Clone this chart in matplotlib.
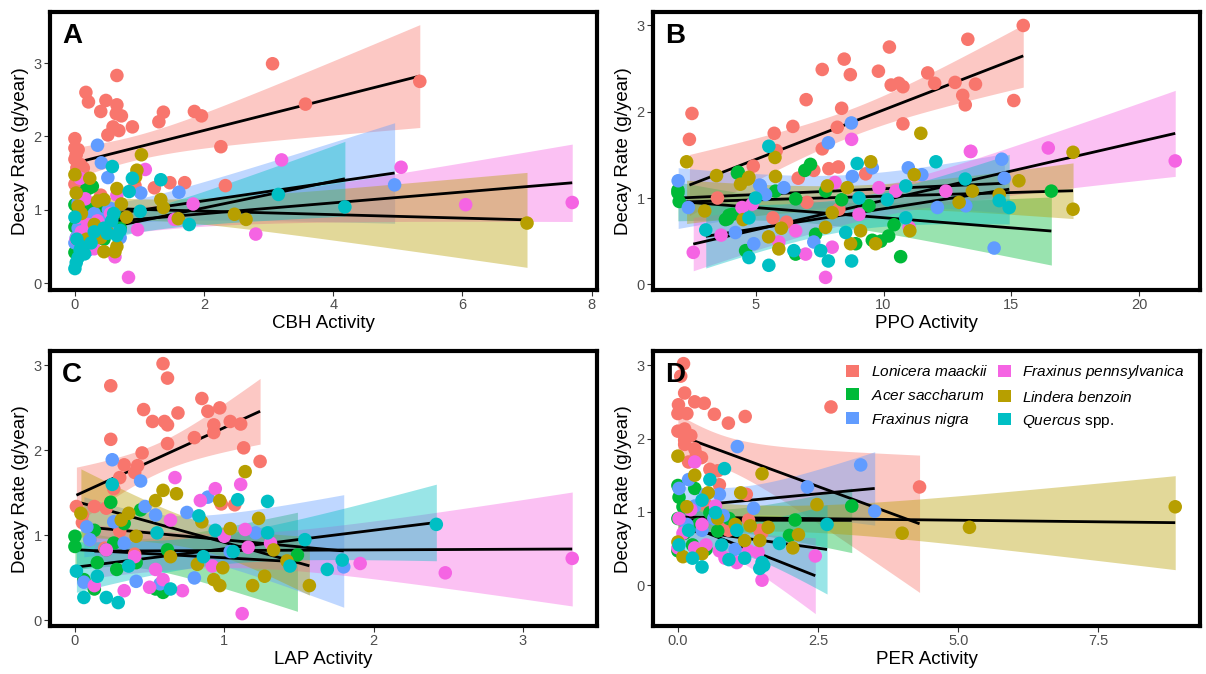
import numpy as np
import matplotlib
matplotlib.use("Agg")
import matplotlib.pyplot as plt
from matplotlib.patches import Patch
from matplotlib.ticker import MultipleLocator, FormatStrFormatter

plt.rcParams["font.family"] = ["Liberation Sans", "DejaVu Sans"]
plt.rcParams["mathtext.fontset"] = "custom"
plt.rcParams["mathtext.it"] = "Liberation Sans:italic"
plt.rcParams["mathtext.rm"] = "Liberation Sans"

species = ["Lonicera maackii", "Acer saccharum", "Fraxinus nigra",
           "Fraxinus pennsylvanica", "Lindera benzoin", "Quercus spp."]
species_labels = [r"$\it{Lonicera\ maackii}$", r"$\it{Acer\ saccharum}$", r"$\it{Fraxinus\ nigra}$",
                  r"$\it{Fraxinus\ pennsylvanica}$", r"$\it{Lindera\ benzoin}$", r"$\it{Quercus}$ spp."]
colors = ["#F8766D", "#00BA38", "#619CFF", "#F564E3", "#B79F00", "#00BFC4"]

# ---- panel A : CBH ----
cbh_lon_x = [0.65, 0.17, 0.21, 0.48, 0.65, 0.40, 0.64, 0.72, 1.37, 1.30, 1.85, 1.96, 0.89, 0.59, 0.68, 0.51, 0.00,
             2.26, 0.00, 0.05, 0.00, 0.03, 0.13, 2.33, 1.23, 1.47, 1.70, 0.93, 3.06, 3.57, 5.34, 0.02, 0.08,
             0.05, 0.10, 0.20, 0.30, 0.15, 0.40, 0.00, 0.25, 0.35, 0.10]
cbh_lon_y = [2.83, 2.60, 2.47, 2.49, 2.43, 2.34, 2.31, 2.28, 2.33, 2.20, 2.34, 2.28, 2.13, 2.13, 2.08, 2.02, 1.97,
             1.86, 1.84, 1.82, 1.69, 1.57, 1.57, 1.33, 1.30, 1.37, 1.37, 1.33, 2.99, 2.44, 2.75, 1.75, 1.62,
             1.45, 1.25, 1.10, 0.95, 0.85, 1.20, 1.35, 0.75, 0.90, 1.05]
cbh_ace_x = [0.23, 0.18, 0.27, 0.00, 0.21, 0.34, 0.00, 0.03, 0.00, 0.36, 0.05, 0.10, 0.15, 0.40, 0.55, 0.62, 0.08,
             0.30, 0.45, 0.12, 0.02, 0.50, 0.70, 0.25, 0.06]
cbh_ace_y = [1.30, 1.28, 1.32, 1.07, 0.98, 0.82, 0.77, 0.56, 0.42, 0.93, 1.20, 0.90, 1.10, 0.70, 0.78, 0.95, 0.65,
             1.05, 0.60, 0.50, 0.88, 1.02, 0.75, 0.62, 1.00]
cbh_fni_x = [0.35, 0.41, 0.51, 1.02, 1.61, 0.52, 0.26, 0.00, 0.02, 4.95, 0.15, 0.30, 0.45, 0.60, 0.10, 0.05, 0.70,
             0.25, 0.55, 0.20, 0.38, 0.65, 0.05, 0.12]
cbh_fni_y = [1.88, 1.64, 1.44, 1.23, 1.24, 1.00, 0.52, 0.55, 0.62, 1.34, 0.70, 0.95, 0.85, 0.98, 0.60, 0.75, 0.62,
             0.90, 1.02, 0.45, 0.88, 0.70, 1.10, 0.66]
cbh_fpe_x = [7.70, 6.05, 5.05, 3.20, 2.80, 1.83, 1.09, 0.97, 0.83, 1.54, 0.62, 0.28, 0.65, 0.08, 0.16, 0.05, 0.20,
             0.40, 0.10, 0.55, 0.02, 0.35, 0.30]
cbh_fpe_y = [1.10, 1.07, 1.58, 1.68, 0.67, 1.08, 1.55, 0.73, 0.08, 0.87, 0.36, 0.50, 1.20, 1.43, 1.15, 0.90, 0.80,
             0.65, 0.70, 0.95, 0.60, 0.85, 0.47]
cbh_lin_x = [7.00, 2.65, 2.47, 1.03, 0.96, 0.94, 0.65, 0.00, 0.02, 0.23, 0.35, 0.45, 0.72, 1.33, 1.37, 0.45, 0.62,
             0.65, 0.18, 1.60, 0.10, 0.30, 0.50, 0.05, 0.40, 0.80]
cbh_lin_y = [0.82, 0.87, 0.94, 1.75, 1.54, 1.45, 1.29, 1.48, 1.23, 1.43, 1.12, 1.14, 1.08, 1.14, 1.03, 0.43, 0.43,
             0.50, 0.60, 0.88, 0.95, 0.80, 0.70, 1.05, 0.62, 0.90]
cbh_que_x = [0.58, 0.89, 1.33, 0.84, 1.01, 1.77, 0.00, 0.02, 0.57, 0.65, 0.00, 3.15, 4.18, 0.05, 0.10, 0.03, 0.30,
             0.45, 0.70, 0.15, 0.08, 0.25, 0.60, 0.50]
cbh_que_y = [1.59, 1.43, 1.41, 1.25, 0.98, 0.80, 0.20, 0.28, 0.85, 0.65, 0.90, 1.21, 1.04, 0.35, 0.50, 0.60, 0.70,
             0.75, 0.72, 0.40, 0.45, 0.55, 0.95, 0.68]

# ---- panel B : PPO ----
ppo_lon_x = [15.47, 13.30, 10.23, 8.46, 7.60, 8.70, 9.80, 11.73, 12.00, 10.30, 10.60, 10.76, 12.80, 13.60, 13.10,
             13.20, 15.10, 6.97, 8.36, 10.76, 8.19, 6.45, 5.72, 5.80, 7.60, 4.90, 7.86, 8.23, 7.27, 6.66, 9.30,
             2.50, 2.40, 5.67, 8.25, 3.50, 6.20, 7.00]
ppo_lon_y = [3.00, 2.84, 2.75, 2.61, 2.49, 2.43, 2.47, 2.45, 2.33, 2.31, 2.33, 2.29, 2.34, 2.32, 2.19,
             2.08, 2.13, 2.14, 2.04, 1.86, 1.82, 1.83, 1.75, 1.55, 1.57, 1.37, 1.34, 1.36, 1.32, 1.23, 1.28,
             1.98, 1.68, 0.77, 0.87, 1.00, 0.72, 0.95]
ppo_ace_x = [1.95, 2.00, 1.95, 4.28, 3.90, 3.95, 4.31, 7.14, 6.92, 10.67, 10.20, 9.89, 9.56, 8.91, 6.56, 4.60,
             8.36, 9.43, 10.41, 5.77, 6.56, 3.81, 4.07, 7.73, 7.34, 16.57]
ppo_ace_y = [1.09, 0.96, 1.06, 1.29, 0.76, 0.80, 1.30, 1.39, 1.32, 0.32, 0.56, 0.50, 0.51, 0.47, 0.35, 0.39,
             0.98, 0.91, 0.69, 1.08, 0.99, 0.75, 0.81, 1.08, 0.58, 1.08]
ppo_fni_x = [1.96, 2.36, 4.20, 5.15, 8.74, 7.84, 10.97, 11.50, 14.63, 14.73, 14.33, 12.11, 13.22, 5.18, 5.38,
             6.10, 8.78, 9.56, 7.27, 4.92]
ppo_fni_y = [1.20, 0.89, 0.60, 1.15, 1.87, 1.64, 1.35, 1.27, 1.45, 1.23, 0.42, 0.89, 0.91, 1.14, 1.04,
             1.12, 1.25, 1.35, 0.49, 0.47]
ppo_fpe_x = [2.55, 3.64, 8.75, 13.42, 12.44, 9.82, 8.10, 9.04, 4.46, 6.56, 7.73, 6.95, 5.90, 7.99, 11.00,
             10.48, 4.86, 16.45, 21.42, 13.40]
ppo_fpe_y = [0.37, 0.57, 1.68, 1.54, 1.08, 1.12, 1.18, 0.81, 0.89, 0.62, 0.08, 0.35, 0.49, 0.43, 0.66,
             1.08, 0.93, 1.58, 1.43, 1.54]
ppo_lin_x = [2.29, 3.46, 4.40, 4.70, 11.46, 5.77, 5.75, 4.73, 9.50, 11.20, 13.48, 15.30, 14.53, 12.96, 8.58,
             7.80, 7.99, 7.73, 9.10, 9.69, 11.03, 5.90, 8.71, 17.42, 17.42, 5.50, 4.50, 6.00, 3.00]
ppo_lin_y = [1.42, 1.26, 1.16, 1.22, 1.75, 1.25, 1.47, 1.24, 1.42, 1.27, 1.08, 1.20, 1.04, 0.95, 1.12,
             1.14, 0.83, 0.66, 0.62, 0.47, 0.62, 0.41, 0.47, 1.53, 0.87, 0.55, 0.75, 0.65, 0.85]
ppo_que_x = [3.04, 5.51, 8.97, 12.05, 13.20, 14.92, 14.53, 10.87, 10.15, 8.75, 7.84, 5.51, 4.73, 4.73, 6.49,
             7.54, 8.52, 4.99, 9.04, 10.87]
ppo_que_y = [0.63, 1.60, 1.40, 1.42, 1.22, 0.89, 0.97, 1.14, 0.98, 0.27, 0.27, 0.22, 0.31, 0.77, 0.39,
             0.39, 0.60, 1.00, 1.00, 0.77]

# ---- panel C : LAP ----
lap_lon_x = [0.59, 0.62, 0.24, 0.85, 0.97, 0.89, 0.46, 0.69, 0.52, 0.60, 0.62, 1.04, 1.11, 0.93, 0.93, 0.80,
             0.24, 0.62, 1.13, 0.45, 0.33, 0.42, 0.40, 0.30, 1.24, 0.26, 0.98, 1.07, 0.01, 0.13, 0.21, 0.05,
             0.40, 0.10, 0.20, 0.30, 0.05]
lap_lon_y = [3.02, 2.85, 2.76, 2.61, 2.50, 2.46, 2.48, 2.44, 2.34, 2.34, 2.30, 2.34, 2.31, 2.30, 2.21, 2.15,
             2.13, 2.08, 2.03, 1.97, 1.83, 1.82, 1.74, 1.68, 1.87, 1.55, 1.37, 1.36, 1.34, 1.34, 1.32, 1.24,
             0.78, 0.95, 0.85, 1.05, 1.15]
lap_ace_x = [0.00, 0.24, 0.44, 1.49, 0.13, 0.21, 0.33, 0.06, 0.13, 0.28, 0.59, 0.41, 0.26, 0.62, 0.54, 0.15, 0.00]
lap_ace_y = [0.87, 1.39, 1.30, 0.77, 1.06, 0.83, 1.14, 0.48, 0.37, 0.60, 0.33, 0.68, 0.91, 0.83, 0.37, 0.68, 0.99]
lap_fni_x = [0.25, 0.44, 0.89, 0.47, 0.08, 1.80, 0.80, 0.75, 0.54, 1.04, 1.21, 0.10, 0.06, 0.41, 0.57, 0.26, 0.33]
lap_fni_y = [1.89, 1.64, 1.45, 1.34, 1.10, 0.63, 0.50, 1.27, 1.24, 0.81, 1.03, 0.95, 0.45, 0.46, 0.43, 1.16, 0.91]
lap_fpe_x = [0.67, 0.94, 1.11, 0.84, 2.48, 3.33, 1.91, 1.12, 0.92, 1.14, 1.31, 1.16, 0.72, 0.50, 0.33, 0.64,
             0.54, 0.40, 1.00, 0.21, 0.59, 0.13]
lap_fpe_y = [1.68, 1.55, 1.60, 1.41, 0.56, 0.73, 0.67, 0.08, 0.64, 1.07, 0.91, 0.86, 0.35, 0.39, 0.35, 1.18,
             0.60, 0.75, 0.99, 0.83, 0.48, 0.41]
lap_lin_x = [1.14, 0.59, 0.68, 0.54, 0.97, 1.23, 1.04, 0.36, 0.31, 0.04, 1.33, 1.42, 1.57, 1.19, 1.27, 0.93,
             0.97, 0.99, 0.82, 0.85, 0.41, 0.64]
lap_lin_y = [1.75, 1.53, 1.49, 1.41, 1.41, 1.20, 1.08, 1.26, 1.18, 1.26, 0.83, 0.70, 0.41, 0.41, 0.52, 0.48,
             0.41, 0.62, 0.66, 1.16, 0.99, 0.75]
lap_que_x = [0.25, 1.09, 1.29, 0.83, 0.94, 2.42, 1.54, 1.79, 1.69, 1.44, 1.29, 0.01, 0.06, 0.29, 0.21, 0.55,
             0.15, 0.36, 0.64, 1.06, 0.86]
lap_que_y = [1.60, 1.42, 1.40, 1.23, 1.06, 1.13, 0.95, 0.71, 0.60, 0.64, 1.03, 0.58, 0.27, 0.21, 0.27, 1.03,
             0.52, 0.64, 0.37, 0.81, 0.75]

# ---- panel D : PER ----
per_lon_x = [0.10, 0.05, 0.12, 0.30, 0.47, 0.01, 0.00, 0.16, 0.65, 1.20, 0.90, 2.73, 0.00, 0.12, 0.23, 0.12,
             0.12, 0.30, 0.33, 0.19, 0.42, 0.57, 0.71, 0.74, 1.22, 4.31, 1.26, 1.46, 0.84, 0.90, 1.50, 0.50]
per_lon_y = [3.02, 2.85, 2.62, 2.50, 2.48, 2.46, 2.34, 2.34, 2.33, 2.30, 2.21, 2.43, 2.10, 2.13, 2.04, 1.98,
             1.92, 1.86, 1.78, 1.68, 1.74, 1.58, 1.56, 1.37, 1.24, 1.34, 0.89, 0.75, 0.81, 0.75, 0.72, 1.10]
per_ace_x = [3.10, 2.09, 1.99, 0.71, 0.00, 0.02, 0.00, 0.00, 0.26, 0.50, 0.36, 0.12, 0.57, 0.30, 0.91, 0.09]
per_ace_y = [1.08, 0.89, 0.68, 0.74, 1.36, 1.20, 0.91, 0.47, 0.55, 0.49, 0.83, 0.71, 0.99, 1.32, 0.91, 1.07]
per_fni_x = [1.06, 3.26, 2.31, 3.51, 1.35, 0.81, 0.74, 0.19, 1.02, 0.02, 0.30, 0.50, 0.43, 0.64, 0.16]
per_fni_y = [1.89, 1.64, 1.34, 1.01, 1.05, 0.95, 1.24, 1.44, 0.49, 1.32, 1.08, 1.24, 0.75, 0.91, 0.83]
per_fpe_x = [0.30, 0.67, 1.50, 1.26, 1.43, 0.74, 0.02, 0.23, 0.09, 0.30, 0.50, 0.84, 1.05, 0.00, 0.43, 2.45]
per_fpe_y = [1.68, 1.08, 0.07, 0.47, 0.45, 0.47, 0.91, 1.03, 0.71, 0.51, 0.55, 0.37, 0.31, 0.51, 0.83, 0.40]
per_lin_x = [0.00, 1.50, 1.12, 2.48, 8.87, 5.20, 4.00, 1.02, 1.29, 1.61, 1.46, 1.19, 2.15, 2.05, 0.30, 0.54,
             0.00, 0.09, 0.43, 0.71, 0.16]
per_lin_y = [1.76, 1.52, 1.26, 1.10, 1.07, 0.79, 0.71, 0.83, 0.81, 0.79, 0.61, 0.61, 0.69, 0.51, 1.50, 1.26,
             0.59, 0.39, 0.43, 0.91, 1.07]
per_que_x = [0.83, 0.57, 2.66, 1.81, 1.50, 1.46, 1.53, 0.43, 0.26, 0.91, 0.67, 0.43, 0.19, 0.78, 0.02, 1.05, 1.19]
per_que_y = [1.59, 1.44, 0.83, 0.57, 0.31, 0.23, 0.27, 0.25, 0.37, 0.35, 0.99, 1.16, 0.75, 0.55, 0.55, 0.75, 0.37]

panels = [
    ("A", "CBH Activity", [cbh_lon_x, cbh_ace_x, cbh_fni_x, cbh_fpe_x, cbh_lin_x, cbh_que_x],
     [cbh_lon_y, cbh_ace_y, cbh_fni_y, cbh_fpe_y, cbh_lin_y, cbh_que_y], 2, "%g"),
    ("B", "PPO Activity", [ppo_lon_x, ppo_ace_x, ppo_fni_x, ppo_fpe_x, ppo_lin_x, ppo_que_x],
     [ppo_lon_y, ppo_ace_y, ppo_fni_y, ppo_fpe_y, ppo_lin_y, ppo_que_y], 5, "%g"),
    ("C", "LAP Activity", [lap_lon_x, lap_ace_x, lap_fni_x, lap_fpe_x, lap_lin_x, lap_que_x],
     [lap_lon_y, lap_ace_y, lap_fni_y, lap_fpe_y, lap_lin_y, lap_que_y], 1, "%g"),
    ("D", "PER Activity", [per_lon_x, per_ace_x, per_fni_x, per_fpe_x, per_lin_x, per_que_x],
     [per_lon_y, per_ace_y, per_fni_y, per_fpe_y, per_lin_y, per_que_y], 2.5, "%.1f"),
]


def lm_band(x, y, n_out=80):
    # straight-line fit with a 95% confidence band, like geom_smooth(method = "lm")
    x = np.asarray(x, float)
    y = np.asarray(y, float)
    n = len(x)
    b, a = np.polyfit(x, y, 1)
    resid = y - (a + b * x)
    s = np.sqrt(np.sum(resid ** 2) / (n - 2))
    sxx = np.sum((x - x.mean()) ** 2)
    xs = np.linspace(x.min(), x.max(), n_out)
    fit = a + b * xs
    se = s * np.sqrt(1.0 / n + (xs - x.mean()) ** 2 / sxx)
    t = 1.96 + 2.4 / (n - 2)
    return xs, fit, fit - t * se, fit + t * se


fig = plt.figure(figsize=(12.06, 6.74), dpi=100)
boxes = [(0.0415, 0.5697, 0.4125), (0.5415, 0.5697, 0.4125), (0.0415, 0.071, 0.408), (0.5415, 0.071, 0.408)]
w = 0.4536

for (letter, xlabel, xs_list, ys_list, step, fmt), (l, b, h) in zip(panels, boxes):
    ax = fig.add_axes([l, b, w, h])
    allx, ally = [], []
    for xd, yd, col in zip(xs_list, ys_list, colors):
        gx, fit, lo, hi = lm_band(xd, yd)
        ax.fill_between(gx, lo, hi, color=col, alpha=0.4, lw=0, zorder=1)
        ax.plot(gx, fit, color="black", lw=2.0, zorder=2, solid_capstyle="butt")
        allx += list(xd)
        ally += list(yd) + list(lo) + list(hi)
    for xd, yd, col in zip(xs_list, ys_list, colors):
        ax.scatter(xd, yd, s=95, color=col, edgecolors="none", zorder=3)

    x0, x1 = min(allx), max(allx)
    y0, y1 = min(ally), max(ally)
    ax.set_xlim(x0 - 0.05 * (x1 - x0), x1 + 0.05 * (x1 - x0))
    ax.set_ylim(y0 - 0.05 * (y1 - y0), y1 + 0.05 * (y1 - y0))
    ax.xaxis.set_major_locator(MultipleLocator(step))
    ax.xaxis.set_major_formatter(FormatStrFormatter(fmt))
    ax.yaxis.set_major_locator(MultipleLocator(1))
    ax.yaxis.set_major_formatter(FormatStrFormatter("%g"))
    for sp in ax.spines.values():
        sp.set_linewidth(3.0)
        sp.set_color("black")
    ax.tick_params(length=4, width=0.8, color="#333333", labelcolor="#4D4D4D", labelsize=10.5, pad=2)
    ax.set_xlabel(xlabel, fontsize=13.5, labelpad=2)
    ax.set_ylabel("Decay Rate (g/year)", fontsize=13.5, labelpad=3)
    ax.text(0.022, 0.915, letter, transform=ax.transAxes, fontsize=20, fontweight="bold",
            ha="left", va="center", zorder=5)

    if letter == "D":
        handles = [Patch(facecolor=c, edgecolor="none") for c in colors]
        ax.legend(handles, species_labels, ncol=2, loc="upper left", bbox_to_anchor=(0.33, 1.0),
                  frameon=False, fontsize=11.1, handlelength=0.85, handleheight=0.85, handletextpad=0.75,
                  columnspacing=0.6, labelspacing=0.52, borderaxespad=0.4)

fig.savefig("out.png", dpi=100)
